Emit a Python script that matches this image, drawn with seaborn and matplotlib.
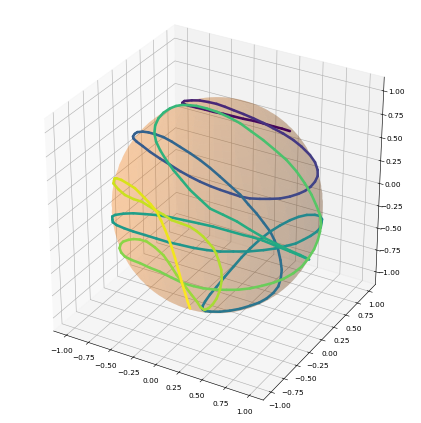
import numpy as np
import matplotlib
matplotlib.use("Agg")
import matplotlib.pyplot as plt
import seaborn as sns
from mpl_toolkits.mplot3d.art3d import Line3DCollection

sns.reset_orig()

# Curve on the sphere (thousandths of an axis unit)
curve_x = [324, 211, 105, -10, -114, -216, -308, -389, -465, -523, -571, -601, -615, -609, -338, -257, -170, -76,
           13, 104, 190, 284, 373, 455, 536, 607, 672, 721, 757, 760, 793, 708, 640, 566, 483, 395,
           289, 173, 59, -49, -154, -254, -353, -445, -536, -624, -704, -777, -843, -899, -936, -945, -928, -881,
           -830, -795, -715, -596, -497, -383, -274, -160, -52, 67, 181, 290, 393, 497, 590, 665, 736, 796,
           844, 876, 898, 906, 902, 881, 845, 801, 749, 698, 637, 565, 488, 406, 324, 285, 274, -88,
           -112, -131, -129, -117, -90, -55, -7, 62, 142, 239, 344, 443, 556, 688, 798, 886, 890, 938,
           986, 999, 991, 971, 935, 881, 817, 724, 619, 521, 414, 297, 176, 57, -68, -202, -352, -495,
           -645, -801, -806, -841, -913, -952, -944, -905, -850, -767, -671, -553, -423, -277, -123, -15, 100, 271,
           461, 623, 831, 976, 950, 889, 810, 715, 616, 505, 391, 288, 180, 82, -27, -139, -245, -333,
           -407, -456, -479, -469, -429, -376, -309, -596, -562, -504, -438, -354, -260, -160, -46, 78, 217, 349,
           472, 589, 700, 793, 867, 916, 915, 943, 952, 943, 923, 888, 841, 780, 707, 628, 545, 457,
           360, 277, 185, 76, -46, -158, -287, -413, -550, -668, -684, -793, -831, -852, -853, -837, -806, -747,
           -669, -589, -492, -382, -259, -169, -85, 287, 335, 395, 448, 495, 525, 529, 509, 490, 465, 420,
           374, 313, 248, 164, 70, -20, -117, -199, -283, -395, -529, -665, -878, -875, -898, -954, -991, -999,
           -986, -966, -940, -903, -856, -811, -760, -711, -661, -588, -509, -420, -313, -226, -137]
curve_y = [830, 878, 903, 909, 900, 879, 841, 794, 733, 667, 590, 518, 447, 387, -27, -27, -28, -35,
           -34, -36, -32, -13, 16, 55, 99, 166, 242, 316, 421, 522, 515, 686, 766, 824, 867, 899,
           923, 935, 937, 929, 911, 890, 864, 831, 789, 739, 682, 616, 535, 435, 315, 196, 63, -69,
           -154, -178, -258, -352, -411, -468, -511, -552, -585, -609, -624, -633, -635, -627, -608, -593, -565, -535,
           -499, -470, -440, -409, -373, -349, -329, -342, -377, -427, -494, -553, -609, -655, -699, -719, -748, -129,
           -44, 86, 213, 354, 473, 577, 661, 737, 790, 821, 830, 815, 774, 688, 580, 451, 436, 326,
           151, 0, -131, -239, -353, -472, -574, -687, -781, -850, -905, -949, -978, -992, -991, -974, -933, -868,
           -764, -588, -585, -534, -373, -166, 0, 153, 276, 396, 493, 582, 652, 701, 729, 739, 733, 696,
           621, 521, 309, -155, -309, -453, -563, -651, -714, -769, -809, -814, -807, -783, -746, -690, -619, -543,
           -452, -357, -260, -186, -134, -113, -111, 509, 574, 671, 750, 830, 895, 945, 976, 987, 973, 937,
           880, 802, 700, 589, 470, 357, 319, 190, 60, -54, -181, -304, -423, -530, -623, -705, -775, -832,
           -882, -916, -944, -968, -977, -965, -934, -878, -782, -661, -663, -474, -370, -243, -149, -57, 17, 71,
           102, 90, 54, 12, -48, -102, -173, -736, -743, -765, -786, -808, -827, -843, -861, -869, -878, -892,
           -903, -915, -926, -940, -949, -942, -930, -912, -888, -852, -787, -686, -441, -434, -388, -266, -125, 5,
           104, 163, 210, 257, 293, 297, 287, 269, 242, 188, 117, 29, -82, -181, -288]
curve_z = [499, 474, 458, 458, 463, 468, 489, 515, 545, 585, 628, 670, 714, 761, 1035, 1063, 1084, 1096,
           1099, 1093, 1079, 1055, 1021, 977, 923, 855, 770, 679, 550, 426, 356, 183, 63, -40, -132, -206,
           -279, -340, -378, -405, -421, -416, -394, -367, -329, -279, -217, -144, -52, 52, 172, 290, 405, 515,
           589, 637, 714, 794, 840, 876, 897, 900, 890, 869, 836, 790, 732, 660, 585, 499, 410, 312,
           217, 115, 6, -115, -240, -351, -463, -540, -599, -633, -651, -674, -688, -701, -701, -697, -665, -1086,
           -1092, -1086, -1065, -1021, -964, -897, -825, -740, -656, -570, -484, -410, -334, -251, -178, -121, -149, -132,
           -75, -40, -17, -6, 17, 35, 52, 69, 86, 92, 104, 115, 126, 126, 126, 115, 86, 46,
           -17, -121, -98, -98, -183, -285, -362, -437, -494, -555, -609, -656, -692, -723, -740, -740, -740, -732,
           -697, -642, -510, -172, -52, 75, 178, 279, 367, 432, 484, 555, 618, 679, 732, 782, 821, 848,
           873, 897, 923, 950, 983, 1012, 1039, 683, 656, 599, 545, 474, 400, 312, 234, 155, 86, 12,
           -58, -115, -161, -172, -183, -200, -274, -301, -329, -362, -373, -378, -373, -367, -367, -362, -351, -345,
           -334, -318, -301, -262, -229, -229, -234, -268, -323, -378, -334, -421, -458, -510, -550, -599, -651, -727,
           -810, -883, -955, -1016, -1061, -1078, -1079, -674, -637, -560, -468, -351, -223, -104, 6, 69, 126, 183,
           234, 279, 312, 329, 340, 367, 383, 394, 400, 378, 351, 323, 206, 234, 229, 155, 58, -52,
           -144, -223, -296, -378, -468, -555, -642, -714, -782, -866, -938, -998, -1041, -1053, -1043]

# Points per strand between turns, and the colour position at each turn
strand_sizes = [14, 17, 24, 34, 18, 22, 18, 22, 16, 24, 14, 25, 19]
strand_stops = [0, .08, .19, .30, .41, .49, .55, .60, .67, .75, .82, .86, .93, 1.0]
tick_values = [-1, -.75, -.5, -.25, 0, .25, .5, .75, 1]

radius_xy, radius_z = 1.0, 1.03
axis_limit = 1.1 * (1 + 1 / 24)
dpi = 52.9

points = np.column_stack([curve_x, curve_y, curve_z]) / 1000
segments = np.stack([points[:-1], points[1:]], axis=1)
colour_pos = np.concatenate([np.linspace(strand_stops[i], strand_stops[i + 1], n, endpoint=False)
                             for i, n in enumerate(strand_sizes)])[1:]
cmap = sns.color_palette("viridis", as_cmap=True)

fig = plt.figure(figsize=(421 / dpi, 423 / dpi), dpi=dpi)
ax = fig.add_subplot(111, projection='3d', computed_zorder=False)

# Sphere
u = np.linspace(0, 2 * np.pi, 60)
v = np.linspace(0, np.pi, 40)
ax.plot_surface(radius_xy * np.outer(np.cos(u), np.sin(v)),
                radius_xy * np.outer(np.sin(u), np.sin(v)),
                radius_z * np.outer(np.ones_like(u), np.cos(v)),
                color='C1', alpha=0.2, linewidth=0, zorder=1)

ax.add_collection3d(Line3DCollection(segments, colors=cmap(colour_pos), linewidths=3.5,
                                     capstyle='round', zorder=2), autolim=False)

ax.set_box_aspect((1, 1, 1))
ax.set_position([0.0195, 0.0206, 0.967, 0.962])
ax.set_xticks(tick_values)
ax.set_yticks(tick_values)
ax.set_zticks(tick_values)
ax.set_xlim(-axis_limit, axis_limit)
ax.set_ylim(-axis_limit, axis_limit)
ax.set_zlim(-axis_limit, axis_limit)

fig.savefig("out.png", dpi=dpi)
